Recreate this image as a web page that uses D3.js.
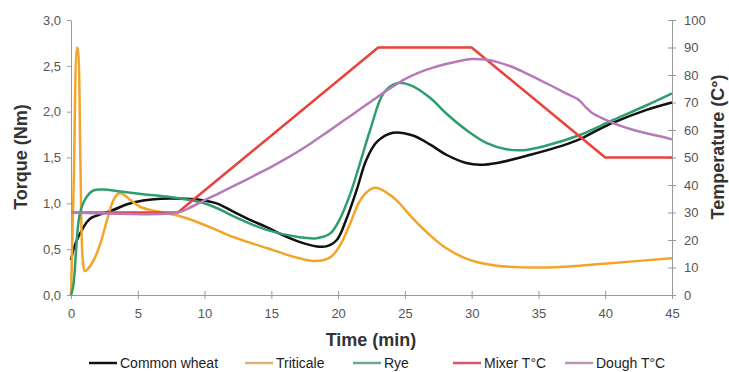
<!DOCTYPE html>
<html>
<head>
<meta charset="utf-8">
<script src="https://cdn.jsdelivr.net/npm/d3@7"></script>
<style>
  body { margin: 0; background: #fff; }
  svg { display: block; font-family: "Liberation Sans", Arial, sans-serif; }
</style>
</head>
<body>
<svg id="chart"></svg>
<script>
// time in minutes, torque in Nm, temperature in °C
const wheat = [
  [0, 0.38], [0.3, 0.55], [0.9, 0.73], [1.4, 0.83], [2.4, 0.89], [3.2, 0.93],
  [4.2, 0.99], [5.4, 1.03], [6.7, 1.05], [8.5, 1.05], [9.6, 1.04], [10.9, 1.0],
  [12.15, 0.91], [13.4, 0.82], [14.65, 0.74], [15.9, 0.65], [17.1, 0.58],
  [18.4, 0.53], [19.1, 0.53], [19.9, 0.6], [20.6, 0.82], [21.4, 1.15],
  [22.1, 1.47], [22.9, 1.67], [24.1, 1.77], [25.6, 1.74], [26.9, 1.64],
  [28.1, 1.53], [29.6, 1.44], [30.6, 1.42], [31.9, 1.44], [34.4, 1.53],
  [36.8, 1.63], [38.1, 1.7], [39.3, 1.79], [40.6, 1.88], [43.1, 2.02], [45, 2.1]
];
const triticale = [
  [0, 0], [0.2, 1.2], [0.45, 2.7], [0.55, 2.62], [0.7, 1.5], [0.9, 0.35],
  [1.05, 0.26], [1.3, 0.29], [1.7, 0.38], [2.2, 0.56], [2.7, 0.82], [3.2, 1.04],
  [3.6, 1.11], [4.0, 1.09], [4.5, 1.03], [5.2, 0.96], [6.2, 0.92], [7.9, 0.87],
  [9.2, 0.81], [11.2, 0.69], [12.2, 0.63], [14.7, 0.51], [17.1, 0.4],
  [18.3, 0.37], [19.4, 0.41], [20.1, 0.53], [20.9, 0.78], [21.6, 1.02],
  [22.2, 1.13], [22.8, 1.17], [23.6, 1.12], [24.4, 1.03], [25.5, 0.85],
  [26.9, 0.65], [28.1, 0.51], [29.9, 0.38], [31.9, 0.32], [35.1, 0.3],
  [38.1, 0.32], [40.6, 0.35], [45, 0.4]
];
const rye = [
  [0, 0], [0.17, 0.1], [0.67, 0.89], [1.17, 1.07], [1.67, 1.14], [2.4, 1.15],
  [3.7, 1.13], [5.4, 1.1], [7.4, 1.07], [9.15, 1.03], [10.2, 0.99], [11.2, 0.93],
  [12.15, 0.86], [14.65, 0.71], [17.1, 0.63], [18.4, 0.62], [19.4, 0.67],
  [20.1, 0.82], [20.9, 1.1], [21.6, 1.42], [22.4, 1.8], [23.4, 2.2],
  [24.4, 2.31], [25.4, 2.29], [26.9, 2.15], [28.1, 1.98], [29.6, 1.8],
  [31.1, 1.66], [32.6, 1.59], [33.9, 1.58], [35.6, 1.63], [38.1, 1.745],
  [40.6, 1.91], [43.1, 2.07], [45, 2.2]
];
const mixerTemp = [[0, 30], [8, 30], [23, 90], [30, 90], [40, 50], [45, 50]];
const doughTemp = [
  [0, 30], [8, 30], [9, 32], [10, 34.5], [11, 36.8], [12, 39.2], [13, 41.6],
  [14, 44.1], [15, 46.6], [16, 49.3], [17, 52.2], [18, 55.3], [19, 58.6], [20, 62],
  [21, 65.4], [22, 68.8], [23, 72.2], [24, 75.5], [25, 78.5], [26, 80.8], [27, 82.5],
  [28, 83.9], [29, 85], [30, 85.8], [31, 85.6], [32, 84.6], [33, 83], [34, 80.8],
  [35, 78.4], [36, 76], [37, 73.5], [38, 71], [38.5, 68.5], [39, 66.3], [40, 63.8],
  [41, 61.8], [42, 60.2], [43, 58.9], [44, 57.8], [45, 56.6]
];

const timeTicks = [0, 5, 10, 15, 20, 25, 30, 35, 40, 45];
const torqueTicks = [0, 0.5, 1, 1.5, 2, 2.5, 3];
const tempTicks = [0, 10, 20, 30, 40, 50, 60, 70, 80, 90, 100];
const seriesNames = ["Common wheat", "Triticale", "Rye", "Mixer T°C", "Dough T°C"];

const width = 729;
const height = 372;
const margin = { top: 20, right: 57, bottom: 77, left: 71 };

const svg = d3.select("#chart").attr("width", width).attr("height", height);

const x = d3.scaleLinear().domain([0, 45]).range([margin.left, width - margin.right]);
const yT = d3.scaleLinear().domain([0, 3]).range([height - margin.bottom, margin.top]);
const yC = d3.scaleLinear().domain([0, 100]).range([height - margin.bottom, margin.top]);

const axisColor = "#999";
const labelColor = "#555";

function styleAxis(g) {
  g.select(".domain").attr("stroke", axisColor);
  g.selectAll(".tick line").attr("stroke", axisColor);
  g.selectAll(".tick text")
    .attr("fill", labelColor)
    .attr("font-size", 13)
    .attr("font-family", "Liberation Sans, Arial, sans-serif");
}

const fmtComma = (d) => d3.format(".1f")(d).replace(".", ",");

// x axis
const gx = svg.append("g")
  .attr("transform", `translate(0,${height - margin.bottom})`)
  .call(d3.axisBottom(x).tickValues(timeTicks).tickSize(4).tickSizeOuter(0).tickPadding(10));
gx.selectAll(".tick line").attr("y1", -4);
styleAxis(gx);

// left axis
const gl = svg.append("g")
  .attr("transform", `translate(${margin.left},0)`)
  .call(d3.axisLeft(yT).tickValues(torqueTicks).tickFormat(fmtComma).tickSize(4).tickSizeOuter(0).tickPadding(6));
styleAxis(gl);

// right axis
const gr = svg.append("g")
  .attr("transform", `translate(${width - margin.right},0)`)
  .call(d3.axisRight(yC).tickValues(tempTicks).tickSize(4).tickSizeOuter(0).tickPadding(8));
gr.selectAll(".tick line").attr("x1", -4);
styleAxis(gr);

// axis titles
svg.append("text")
  .attr("transform", `translate(27,157) rotate(-90)`)
  .attr("text-anchor", "middle")
  .attr("font-size", 18)
  .attr("font-weight", "bold")
  .attr("fill", "#333")
  .text("Torque (Nm)");

svg.append("text")
  .attr("transform", `translate(724,147) rotate(-90)`)
  .attr("text-anchor", "middle")
  .attr("font-size", 18)
  .attr("font-weight", "bold")
  .attr("fill", "#333")
  .text("Temperature (C°)");

svg.append("text")
  .attr("x", 371)
  .attr("y", 346)
  .attr("text-anchor", "middle")
  .attr("font-size", 18)
  .attr("font-weight", "bold")
  .attr("fill", "#333")
  .text("Time (min)");

// lines
const smooth = d3.curveCatmullRom.alpha(0.5);
const series = [
  { data: wheat, y: yT, color: "#111111", curve: smooth },
  { data: triticale, y: yT, color: "#f3a52a", curve: smooth },
  { data: rye, y: yT, color: "#2f9e6e", curve: smooth },
  { data: mixerTemp, y: yC, color: "#e8423b", curve: d3.curveLinear },
  { data: doughTemp, y: yC, color: "#b57ab8", curve: smooth }
];

series.forEach((s) => {
  const line = d3.line()
    .x((d) => x(d[0]))
    .y((d) => s.y(d[1]))
    .curve(s.curve);
  svg.append("path")
    .datum(s.data)
    .attr("fill", "none")
    .attr("stroke", s.color)
    .attr("stroke-width", 2.5)
    .attr("stroke-linejoin", "round")
    .attr("d", line);
});

// legend
const legendColors = ["#111111", "#d8b475", "#6aa896", "#d9566a", "#b896b8"];
const legendX = [120, 276, 384, 484, 596];
const legend = svg.append("g");
seriesNames.forEach((name, i) => {
  legend.append("line")
    .attr("x1", legendX[i] - 31)
    .attr("x2", legendX[i] - 3)
    .attr("y1", 363)
    .attr("y2", 363)
    .attr("stroke", legendColors[i])
    .attr("stroke-width", 2.5);
  legend.append("text")
    .attr("x", legendX[i])
    .attr("y", 368)
    .attr("font-size", 14)
    .attr("fill", "#222")
    .text(name);
});
</script>
</body>
</html>
